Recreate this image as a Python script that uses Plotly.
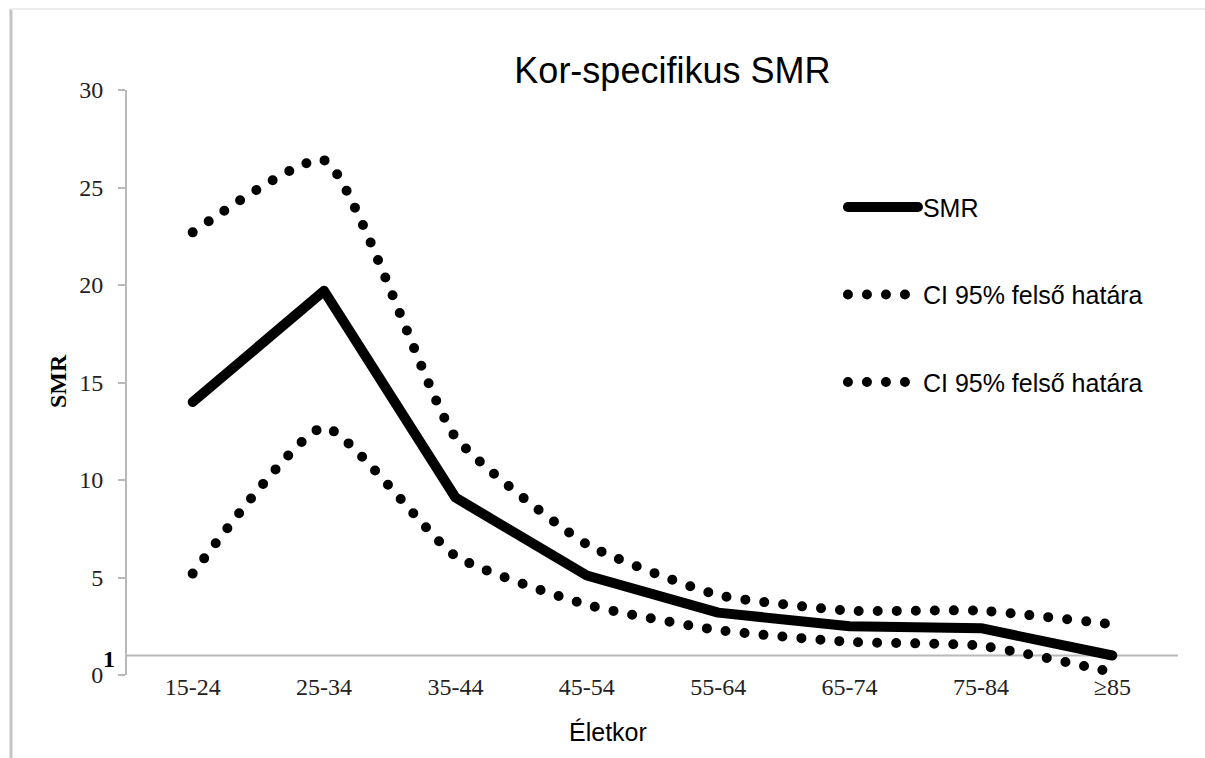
import plotly.graph_objects as go

categories = ["15-24", "25-34", "35-44", "45-54", "55-64", "65-74", "75-84", "≥85"]
smr = [14.0, 19.7, 9.1, 5.1, 3.2, 2.5, 2.4, 1.0]
ci_upper = [22.7, 26.4, 12.2, 6.7, 4.1, 3.3, 3.3, 2.6]
ci_lower = [5.2, 12.7, 6.1, 3.6, 2.3, 1.7, 1.5, 0.15]
y_ticks = [0, 5, 10, 15, 20, 25, 30]

names = ["SMR", "CI 95% felső határa", "CI 95% felső határa"]

fig = go.Figure()
fig.add_trace(go.Scatter(x=categories, y=smr, mode="lines", name=names[0],
                         legendgroup="a",
                         line=dict(color="black", width=10)))
fig.add_trace(go.Scatter(x=categories, y=ci_upper, mode="lines", name=names[1],
                         legendgroup="b",
                         line=dict(color="black", width=10, dash="0px,19px",
                                   shape="spline", smoothing=0.5)))
fig.add_trace(go.Scatter(x=categories, y=ci_lower, mode="lines", name=names[2],
                         legendgroup="c",
                         line=dict(color="black", width=10, dash="0px,19px",
                                   shape="spline", smoothing=0.5)))

axis_grey = "#b9b9b9"

fig.update_layout(
    width=1205, height=758,
    margin=dict(l=127, r=27, t=90, b=83),
    paper_bgcolor="white", plot_bgcolor="white",
    showlegend=True,
    legend=dict(x=0.6812, y=0.839, xanchor="left", yanchor="top",
                font=dict(family="Liberation Sans, Arial", size=25, color="black"),
                bgcolor="rgba(0,0,0,0)", itemwidth=70,
                traceorder="grouped", tracegroupgap=52),
    title=dict(text="Kor-specifikus SMR", x=0.558, xref="container",
               y=1 - 70 / 758, yref="container", xanchor="center", yanchor="middle",
               font=dict(family="Liberation Sans, Arial", size=36, color="black")),
    xaxis=dict(type="category", range=[-0.5, 7.5], showline=False, showgrid=False, zeroline=False,
               ticks="", ticklabelstandoff=-5,
               tickfont=dict(family="Liberation Serif, Times New Roman", size=24, color="#222"),
               fixedrange=True),
    yaxis=dict(range=[0, 30], tickvals=y_ticks, showline=True, linecolor=axis_grey, linewidth=2,
               ticks="outside", ticklen=7, tickcolor=axis_grey, tickwidth=2,
               showgrid=False, zeroline=False, ticklabelstandoff=10,
               tickfont=dict(family="Liberation Serif, Times New Roman", size=24, color="#222"),
               fixedrange=True),
    shapes=[
        dict(type="line", xref="paper", yref="y", x0=0, x1=1, y0=1, y1=1,
             line=dict(color=axis_grey, width=2), layer="below"),
        dict(type="line", xref="paper", yref="paper", x0=-0.1104, x1=-0.1104, y0=1.1385, y1=-0.15,
             line=dict(color="#c4c4c4", width=3)),
        dict(type="line", xref="paper", yref="paper", x0=-0.1104, x1=1.03, y0=1.1385, y1=1.1385,
             line=dict(color="#ececec", width=2)),
    ],
    annotations=[
        dict(text="<b>1</b>", xref="paper", yref="y", x=0, y=1, xanchor="right", yanchor="middle",
             xshift=-10, yshift=-3, showarrow=False,
             font=dict(family="Liberation Serif, Times New Roman", size=24, color="black")),
        dict(text="Életkor", xref="paper", yref="paper", x=(608 - 127) / 1051, y=(675 - 732) / 585,
             xanchor="center", yanchor="middle", showarrow=False,
             font=dict(family="Liberation Sans, Arial", size=25, color="black")),
        dict(text="<b>SMR</b>", xref="paper", yref="paper", x=(58 - 127) / 1051, y=(675 - 381) / 585,
             xanchor="center", yanchor="middle", showarrow=False, textangle=-90,
             font=dict(family="Liberation Serif, Times New Roman", size=24, color="black")),
    ],
)

css = ("var s=document.createElement('style');"
       "s.innerHTML='path.js-line{stroke-linecap:round !important;stroke-linejoin:round !important;}';"
       "document.head.appendChild(s);")
fig.write_html("out.html", post_script=css)
